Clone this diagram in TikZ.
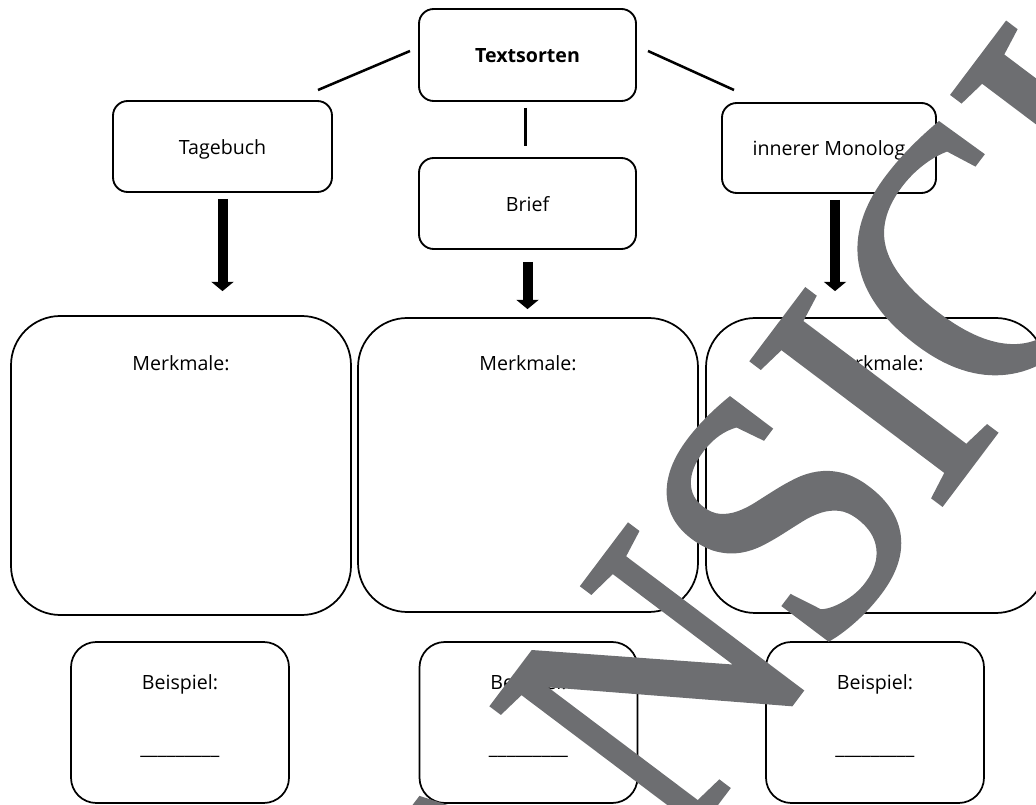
\documentclass[tikz,border=0pt]{standalone}
\usepackage{fontspec}
\setmainfont{Open Sans}
\newfontfamily\wmfont[FakeBold=1.5]{Liberation Serif}
\usetikzlibrary{arrows.meta}
\definecolor{wmgray}{RGB}{109,110,113}
\begin{document}
\begin{tikzpicture}[x=0.75pt,y=-0.75pt,
  every node/.style={font=\fontsize{14.7pt}{17pt}\selectfont, inner sep=0pt},
  topbox/.style={draw, line width=1.4pt, rounded corners=11pt, text height=1.2em, text depth=0pt},
  bigbox/.style={draw, line width=1.3pt, rounded corners=37pt, minimum width=255pt},
  smallbox/.style={draw, line width=1.3pt, rounded corners=19pt, minimum width=163.5pt, minimum height=120.75pt},
  conn/.style={line width=1.9pt},
  bigarrow/.style={line width=7.5pt, -{Triangle[width=16.5pt,length=7pt]}},
  lbl/.style={anchor=base},
  watermark/.style={anchor=base west, rotate=53, text=wmgray, font=\wmfont\fontsize{271pt}{271pt}\selectfont}
]
\useasboundingbox (0,0) rectangle (1036,805);
% top row
\node[topbox, minimum width=162.75pt, minimum height=69pt] (ts) at (527.5,55) {\textbf{Textsorten}};
\node[topbox, minimum width=164.25pt, minimum height=68.25pt] (tage) at (222.5,146.5) {Tagebuch};
\node[topbox, minimum width=162.75pt, minimum height=68.25pt] (brief) at (527.5,203.5) {Brief};
\node[topbox, minimum width=160.5pt, minimum height=67.5pt] (mono) at (829,148) {innerer Monolog};
% connectors from Textsorten
\coordinate (c1a) at (410,51);
\coordinate (c1b) at (318,90);
\coordinate (c2a) at (648,51);
\coordinate (c2b) at (734,90);
\draw[conn] (c1a) -- (c1b);
\draw[conn] (c2a) -- (c2b);
\draw[conn, shorten <=4.5pt, shorten >=8pt] ([xshift=-1.5pt]ts.south) -- ([xshift=-1.5pt]brief.north);
% Merkmale boxes
\node[bigbox, minimum height=224.25pt] (m1) at (181,465.5) {};
\node[bigbox, minimum height=220.5pt] (m2) at (528,465) {};
\node[bigbox, minimum width=254.25pt, minimum height=221.25pt] (m3) at (875.5,465.5) {};
\node[lbl] (m1t) at (181,371) {Merkmale:};
\node[lbl] (m2t) at (528,371) {Merkmale:};
\node[lbl] (m3t) at (875,371) {Merkmale:};
% arrows
\draw[bigarrow, shorten <=4.5pt, shorten >=18pt] (tage.south) -- (tage.south |- m1.north);
\draw[bigarrow, shorten <=9pt, shorten >=6pt] (brief.south) -- (brief.south |- m2.north);
\draw[bigarrow, shorten <=4.5pt, shorten >=19.5pt] ([xshift=4.5pt]mono.south) -- ([xshift=4.5pt]mono.south |- m3.north);
% Beispiel boxes
\node[smallbox] (b1) at (180,722.5) {};
\node[smallbox] (b2) at (528.5,722.5) {};
\node[smallbox] (b3) at (875,722.5) {};
\node[lbl] (b1t) at (180,689) {Beispiel:};
\node[lbl] (b2t) at (528.5,689) {Beispiel:};
\node[lbl] (b3t) at (875,689) {Beispiel:};
\node[lbl] (b1u) at (180,754) {\_\_\_\_\_\_\_\_\_};
\node[lbl] (b2u) at (528.5,754) {\_\_\_\_\_\_\_\_\_};
\node[lbl] (b3u) at (875,754) {\_\_\_\_\_\_\_\_\_};
% watermark
\node[watermark] (wm) at (530,1050) {\scalebox{0.93}[1]{ANSICHT}};
\end{tikzpicture}
\end{document}
